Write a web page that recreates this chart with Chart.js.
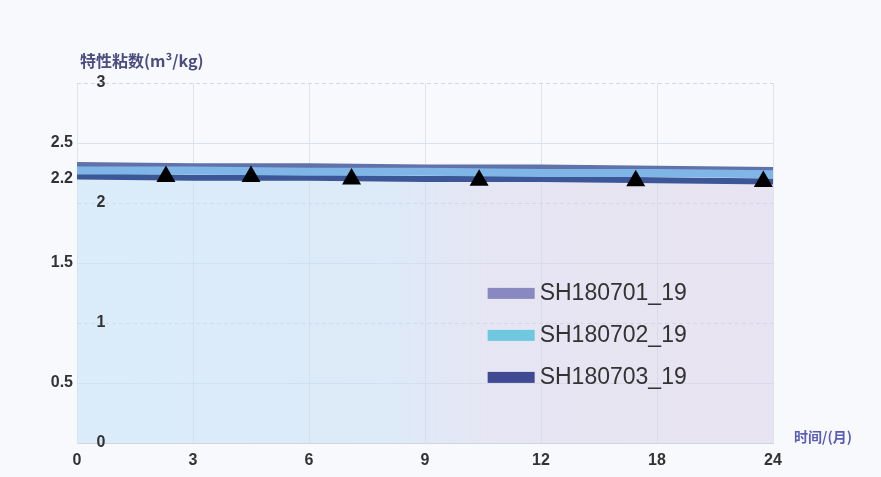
<!DOCTYPE html>
<html>
<head>
<meta charset="utf-8">
<script src="https://cdn.jsdelivr.net/npm/chart.js@4.4.1/dist/chart.umd.min.js"></script>
<style>
    html, body { margin: 0; padding: 0; background: #f7f9fc; }
    #wrap { width: 881px; height: 477px; }
</style>
</head>
<body>
<div id="wrap"><canvas id="viscChart" width="881" height="477"></canvas></div>
<script>
// 时间 (月) 刻度
const months = [0, 3, 6, 9, 12, 18, 24];

// 特性粘数
const sh701 = [2.32, 2.31, 2.31, 2.30, 2.30, 2.29, 2.28];
const sh702 = [2.27, 2.27, 2.26, 2.26, 2.25, 2.25, 2.24];
const sh703 = [2.22, 2.21, 2.21, 2.20, 2.20, 2.19, 2.18];

// black triangle markers
const markerMonths = [2.3, 4.5, 7.1, 10.4, 16.9, 23.5];
const markerValues = [2.22, 2.22, 2.20, 2.19, 2.185, 2.18];

// y labels: the half values sit left of the axis, the integers inside the plot
const yOuterTicks = [0.5, 1.5, 2.2, 2.5];
const yInnerTicks = [0, 1, 2, 3];

const seriesNames = ['SH180701_19', 'SH180702_19', 'SH180703_19'];
const lineColors = ['#5f72aa', '#80b5e8', '#3b5797'];
const legendColors = ['#8a88c0', '#6ec9e0', '#3f4a92'];

const tickFont = { family: "'Liberation Sans', sans-serif", size: 16, weight: 'bold' };

// months are not evenly spaced on the axis, each step is one slot
function monthToSlot(m) {
    for (let i = 0; i < months.length - 1; i++) {
        if (m <= months[i + 1]) {
            return i + (m - months[i]) / (months[i + 1] - months[i]);
        }
    }
    return months.length - 1;
}

function toPoints(values) {
    return values.map((v, i) => ({ x: i, y: v }));
}

function areaGradient(context) {
    const chart = context.chart;
    const area = chart.chartArea;
    if (!area) return 'rgba(190,220,245,0.5)';
    const g = chart.ctx.createLinearGradient(area.left, 0, area.right, 0);
    g.addColorStop(0, 'rgba(196,226,247,0.55)');
    g.addColorStop(0.45, 'rgba(200,222,244,0.55)');
    g.addColorStop(0.6, 'rgba(214,210,233,0.5)');
    g.addColorStop(1, 'rgba(218,206,231,0.5)');
    return g;
}

// integer grid lines are dashed in the original
const dashedGrid = {
    id: 'dashedGrid',
    beforeDatasetsDraw(chart) {
        const ctx = chart.ctx;
        const y = chart.scales.y;
        const area = chart.chartArea;
        ctx.save();
        ctx.strokeStyle = '#d3d9e2';
        ctx.lineWidth = 1;
        ctx.setLineDash([4, 3]);
        yInnerTicks.forEach(v => {
            if (v === 0) return;
            const py = Math.round(y.getPixelForValue(v)) + 0.5;
            ctx.beginPath();
            ctx.moveTo(area.left, py);
            ctx.lineTo(area.right, py);
            ctx.stroke();
        });
        ctx.restore();
    }
};

const innerLabels = {
    id: 'innerLabels',
    afterDraw(chart) {
        const ctx = chart.ctx;
        const y = chart.scales.y;
        const area = chart.chartArea;
        ctx.save();
        ctx.font = "bold 16px 'Liberation Sans', sans-serif";
        ctx.fillStyle = '#333333';
        ctx.textAlign = 'center';
        ctx.textBaseline = 'middle';
        yInnerTicks.forEach(v => {
            ctx.fillText(String(v), area.left + 24, y.getPixelForValue(v));
        });

        // axis titles
        ctx.textAlign = 'left';
        ctx.font = "bold 16px 'Noto Sans CJK SC', sans-serif";
        ctx.fillStyle = '#4b4d80';
        ctx.fillText('特性粘数(m³/kg)', 80, 61);
        ctx.font = "bold 14px 'Noto Sans CJK SC', sans-serif";
        ctx.fillStyle = '#5b5cb8';
        ctx.fillText('时间/(月)', 794, 437);

        // legend inside the plot
        const lx = area.left + area.width * 0.59;
        const ly = area.top + area.height * 0.583;
        ctx.font = "23px 'Liberation Sans', sans-serif";
        seriesNames.forEach((name, i) => {
            const rowY = ly + i * 42;
            ctx.fillStyle = legendColors[i];
            ctx.fillRect(lx, rowY - 5, 47, 11);
            ctx.fillStyle = '#333333';
            ctx.fillText(name, lx + 52, rowY + 1);
        });
        ctx.restore();
    }
};

const ctx = document.getElementById('viscChart');
new Chart(ctx, {
    type: 'line',
    data: {
        datasets: [
            {
                label: 'markers',
                data: markerMonths.map((m, i) => ({ x: monthToSlot(m), y: markerValues[i] })),
                showLine: false,
                pointStyle: 'triangle',
                pointRadius: 11,
                backgroundColor: '#000000',
                borderColor: '#000000',
                borderWidth: 0,
                order: 0
            },
            {
                label: seriesNames[1],
                data: toPoints(sh702),
                borderColor: lineColors[1],
                borderWidth: 8,
                pointRadius: 0,
                fill: false,
                order: 1
            },
            {
                label: seriesNames[0],
                data: toPoints(sh701),
                borderColor: lineColors[0],
                borderWidth: 5,
                pointRadius: 0,
                fill: false,
                order: 2
            },
            {
                label: seriesNames[2],
                data: toPoints(sh703),
                borderColor: lineColors[2],
                borderWidth: 6,
                pointRadius: 0,
                fill: 'origin',
                backgroundColor: areaGradient,
                order: 3
            }
        ]
    },
    options: {
        responsive: false,
        animation: false,
        layout: { padding: { top: 83, right: 108, bottom: 0, left: 0 } },
        plugins: {
            legend: { display: false },
            tooltip: { enabled: false }
        },
        scales: {
            x: {
                type: 'linear',
                min: 0,
                max: months.length - 1,
                afterFit: function(scale) { scale.height = 34; },
                afterBuildTicks: function(scale) {
                    scale.ticks = months.map((m, i) => ({ value: i }));
                },
                ticks: {
                    padding: 8,
                    color: '#333333',
                    font: tickFont,
                    maxRotation: 0,
                    callback: function(value) { return String(months[value]); }
                },
                grid: { color: '#dfe4eb', drawTicks: false },
                border: { color: '#cfd6df' }
            },
            y: {
                min: 0,
                max: 3,
                afterFit: function(scale) { scale.width = 77; },
                afterBuildTicks: function(scale) {
                    const all = yOuterTicks.concat(yInnerTicks).sort((a, b) => a - b);
                    scale.ticks = all.map(v => ({ value: v }));
                },
                ticks: {
                    padding: 4,
                    color: '#333333',
                    font: tickFont,
                    callback: function(value) {
                        return yOuterTicks.includes(value) ? String(value) : '';
                    }
                },
                grid: {
                    drawTicks: false,
                    color: function(c) {
                        const v = c.tick ? c.tick.value : null;
                        if (v === 2.2 || yInnerTicks.includes(v)) return 'rgba(0,0,0,0)';
                        return '#dde2ea';
                    }
                },
                border: { color: '#dfe6ee' }
            }
        }
    },
    plugins: [dashedGrid, innerLabels]
});
</script>
</body>
</html>
